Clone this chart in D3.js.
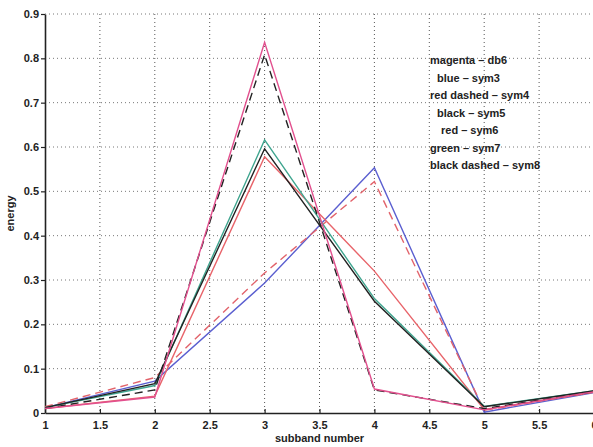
<!DOCTYPE html>
<html>
<head>
<meta charset="utf-8">
<script src="https://cdn.jsdelivr.net/npm/d3@7"></script>
<style>
  html, body { margin: 0; padding: 0; background: #fff; overflow: hidden; }
  svg { display: block; font-family: "Liberation Sans", Arial, sans-serif; }
</style>
</head>
<body>
<svg id="chart" width="593" height="447"></svg>
<script>
// Subband numbers on the x axis
const subbands = [1, 2, 3, 4, 5, 6];

// Energy per subband for each wavelet
const db6  = [0.010, 0.036, 0.836, 0.054, 0.007, 0.048];
const sym3 = [0.012, 0.072, 0.293, 0.553, 0.002, 0.046];
const sym4 = [0.014, 0.080, 0.316, 0.522, 0.006, 0.047];
const sym5 = [0.012, 0.066, 0.596, 0.252, 0.014, 0.050];
const sym6 = [0.010, 0.038, 0.578, 0.320, 0.008, 0.047];
const sym7 = [0.012, 0.062, 0.616, 0.258, 0.015, 0.050];
const sym8 = [0.010, 0.052, 0.808, 0.052, 0.010, 0.048];

const xTicks = [1, 1.5, 2, 2.5, 3, 3.5, 4, 4.5, 5, 5.5, 6];
const yTicks = [0, 0.1, 0.2, 0.3, 0.4, 0.5, 0.6, 0.7, 0.8, 0.9];

const legendLines = [
  "magenta \u2013 db6",
  "blue \u2013 sym3",
  "red dashed \u2013 sym4",
  "black \u2013 sym5",
  "red \u2013 sym6",
  "green \u2013 sym7",
  "black dashed \u2013 sym8"
];

const series = [
  { values: sym3, color: "#5b5fd0", dash: null },
  { values: sym4, color: "#e2636b", dash: "8,5" },
  { values: sym6, color: "#e8646a", dash: null },
  { values: sym7, color: "#3fa58f", dash: null },
  { values: sym5, color: "#222222", dash: null },
  { values: sym8, color: "#222222", dash: "8,5" },
  { values: db6,  color: "#e2508e", dash: null }
];

const svg = d3.select("#chart");
const plotLeft = 45, plotRight = 594, plotTop = 14, plotBottom = 413;

const x = d3.scaleLinear().domain([1, 6]).range([plotLeft, plotRight]);
const y = d3.scaleLinear().domain([0, 0.9]).range([plotBottom, plotTop]);

// Dotted grid
const grid = svg.append("g");
grid.selectAll("line.v").data(xTicks.slice(1)).join("line")
  .attr("x1", d => x(d)).attr("x2", d => x(d))
  .attr("y1", plotTop).attr("y2", plotBottom)
  .attr("stroke", "#555").attr("stroke-width", 1)
  .attr("stroke-dasharray", "1,3");
grid.selectAll("line.h").data(yTicks.slice(1)).join("line")
  .attr("x1", plotLeft).attr("x2", plotRight)
  .attr("y1", d => y(d)).attr("y2", d => y(d))
  .attr("stroke", "#777").attr("stroke-width", 1)
  .attr("stroke-dasharray", "1,3");

// Axes
const xAxis = d3.axisBottom(x).tickValues(xTicks).tickSizeInner(-4).tickSizeOuter(0).tickPadding(8)
  .tickFormat(d3.format("~g"));
const yAxis = d3.axisLeft(y).tickValues(yTicks).tickSizeInner(4).tickSizeOuter(0).tickPadding(2)
  .tickFormat(d3.format("~g"));

const gx = svg.append("g").attr("transform", `translate(0,${plotBottom})`).call(xAxis);
const gy = svg.append("g").attr("transform", `translate(${plotLeft},0)`).call(yAxis);
[gx, gy].forEach(g => {
  g.select(".domain").attr("stroke", "#222").attr("stroke-width", 1.6);
  g.selectAll(".tick line").attr("stroke", "#222").attr("stroke-width", 1.2);
  g.selectAll(".tick text").attr("fill", "#222").attr("font-size", 11)
    .attr("font-weight", "bold").attr("font-family", "Liberation Sans, Arial, sans-serif");
});

// Lines
const line = d3.line().x((d, i) => x(subbands[i])).y(d => y(d));
svg.append("g").selectAll("path").data(series).join("path")
  .attr("d", d => line(d.values))
  .attr("fill", "none")
  .attr("stroke", d => d.color)
  .attr("stroke-width", 1.4)
  .attr("stroke-dasharray", d => d.dash);

// Axis titles
svg.append("text")
  .attr("x", x(3.5)).attr("y", 442)
  .attr("text-anchor", "middle")
  .attr("font-size", 11).attr("font-weight", "bold").attr("fill", "#222")
  .text("subband number");
svg.append("text")
  .attr("transform", `translate(14,${y(0.45)}) rotate(-90)`)
  .attr("text-anchor", "middle")
  .attr("font-size", 11).attr("font-weight", "bold").attr("fill", "#222")
  .text("energy");

// Legend text block
const legendX = [430, 437, 430, 437, 441, 430, 430];
svg.append("g").selectAll("text").data(legendLines).join("text")
  .attr("x", (d, i) => legendX[i])
  .attr("y", (d, i) => 64 + i * 17.5)
  .attr("font-size", 11).attr("font-weight", "bold").attr("fill", "#222")
  .text(d => d);
</script>
</body>
</html>
